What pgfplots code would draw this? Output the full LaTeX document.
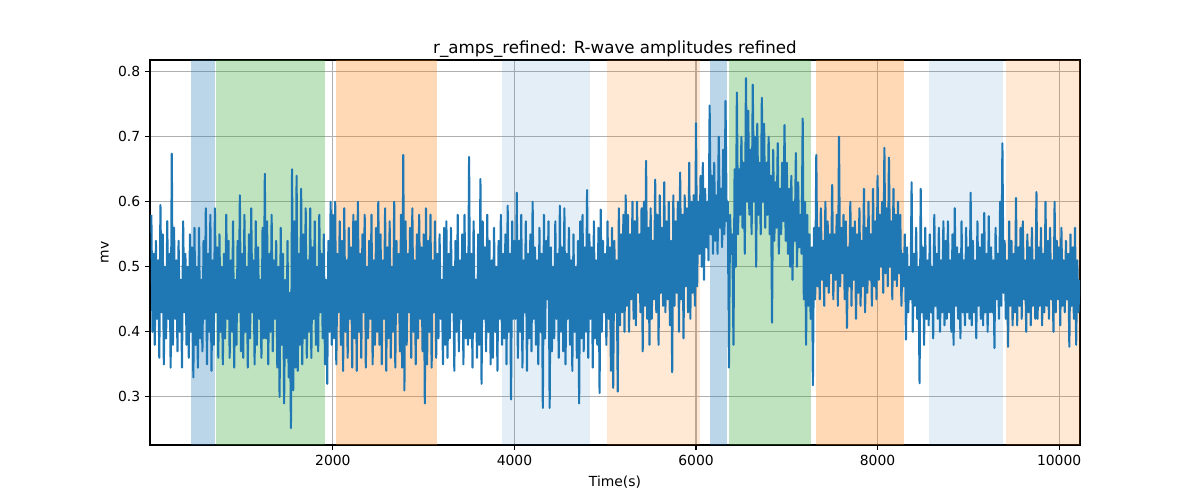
\documentclass[border=0pt]{standalone}
\usepackage{fontspec}
\setmainfont{DejaVu Sans}
\usepackage{pgfplots}
\pgfplotsset{compat=1.18}
\definecolor{tabblue}{RGB}{31,119,180}
\definecolor{tabgreen}{RGB}{44,160,44}
\definecolor{taborange}{RGB}{255,127,14}
\definecolor{gridgray}{RGB}{176,176,176}
\begin{document}
\begin{tikzpicture}
\path[use as bounding box] (-108pt,-39.6pt) rectangle (756pt,320.4pt);
\begin{axis}[
  scale only axis,
  width=669.6pt, height=277.2pt,
  at={(0,0)}, anchor=south west,
  xmin=-15, xmax=10230, ymin=0.226, ymax=0.818,
  xtick={2000,4000,6000,8000,10000},
  ytick={0.3,0.4,0.5,0.6,0.7,0.8},
  scaled x ticks=false, scaled y ticks=false,
  /pgf/number format/assume math mode=true,
  /pgf/number format/set thousands separator={},
  yticklabel style={/pgf/number format/fixed,/pgf/number format/precision=1,/pgf/number format/fixed zerofill},
  tick label style={font=\fontsize{10}{12}\selectfont},
  tick align=outside, major tick length=3.5pt,
  tick style={black, line width=0.8pt},
  xtick pos=bottom, ytick pos=left,
  axis line style={black, line width=0.8pt},
  grid=major,
  major grid style={gridgray, line width=0.8pt},
  title={r\_amps\_refined: R-wave amplitudes refined},
  title style={font=\fontsize{12}{14}\selectfont, at={(0.5,1)}, anchor=base, yshift=-1.5pt},
  xlabel={Time(s)},
  ylabel={mv},
  label style={font=\fontsize{10}{12}\selectfont},
  xlabel style={yshift=-1pt},
]
\addplot[fill=tabblue, fill opacity=0.3, draw=none] coordinates {(435,0.226) (700,0.226) (700,0.818) (435,0.818)} -- cycle;
\addplot[fill=tabgreen, fill opacity=0.3, draw=none] coordinates {(711,0.226) (1912,0.226) (1912,0.818) (711,0.818)} -- cycle;
\addplot[fill=taborange, fill opacity=0.3, draw=none] coordinates {(2033,0.226) (3146,0.226) (3146,0.818) (2033,0.818)} -- cycle;
\addplot[fill=tabblue, fill opacity=0.12, draw=none] coordinates {(3862,0.226) (4832,0.226) (4832,0.818) (3862,0.818)} -- cycle;
\addplot[fill=taborange, fill opacity=0.18, draw=none] coordinates {(5019,0.226) (6044,0.226) (6044,0.818) (5019,0.818)} -- cycle;
\addplot[fill=tabblue, fill opacity=0.3, draw=none] coordinates {(6154,0.226) (6342,0.226) (6342,0.818) (6154,0.818)} -- cycle;
\addplot[fill=tabgreen, fill opacity=0.3, draw=none] coordinates {(6364,0.226) (7267,0.226) (7267,0.818) (6364,0.818)} -- cycle;
\addplot[fill=taborange, fill opacity=0.3, draw=none] coordinates {(7322,0.226) (8292,0.226) (8292,0.818) (7322,0.818)} -- cycle;
\addplot[fill=tabblue, fill opacity=0.12, draw=none] coordinates {(8567,0.226) (9383,0.226) (9383,0.818) (8567,0.818)} -- cycle;
\addplot[fill=taborange, fill opacity=0.18, draw=none] coordinates {(9416,0.226) (10230,0.226) (10230,0.818) (9416,0.818)} -- cycle;
\addplot[tabblue, line width=1.5pt, line join=round, mark=none] coordinates {
(0,0.58)(12.5,0.40)(25,0.52)(37.5,0.38)(50,0.54)(62.5,0.42)(75,0.51)(87.5,0.36)(100,0.595)(112.5,0.43)(125,0.55)(137.5,0.35)(150,0.50)(162.5,0.39)(175,0.57)(187.5,0.42)(200,0.52)(212.5,0.345)(225,0.674)(237.5,0.38)
(250,0.56)(262.5,0.42)(275,0.51)(287.5,0.37)(300,0.54)(312.5,0.40)(325,0.48)(337.5,0.345)(350,0.57)(362.5,0.43)(375,0.52)(387.5,0.38)(400,0.50)(412.5,0.36)(425,0.55)(437.5,0.40)(450,0.53)(462.5,0.33)(475,0.56)(487.5,0.38)
(500,0.50)(512.5,0.345)(525,0.56)(537.5,0.39)(550,0.48)(562.5,0.37)(575,0.54)(587.5,0.42)(600,0.59)(612.5,0.35)(625,0.52)(637.5,0.40)(650,0.58)(662.5,0.34)(675,0.51)(687.5,0.38)(700,0.59)(712.5,0.43)(725,0.53)(737.5,0.36)
(750,0.55)(762.5,0.40)(775,0.50)(787.5,0.35)(800,0.52)(812.5,0.39)(825,0.58)(837.5,0.42)(850,0.54)(862.5,0.36)(875,0.51)(887.5,0.40)(900,0.57)(912.5,0.345)(925,0.48)(937.5,0.38)(950,0.54)(962.5,0.43)(975,0.61)(987.5,0.37)
(1000,0.52)(1012.5,0.36)(1025,0.58)(1037.5,0.40)(1050,0.50)(1062.5,0.345)(1075,0.55)(1087.5,0.39)(1100,0.59)(1112.5,0.43)(1125,0.51)(1137.5,0.35)(1150,0.57)(1162.5,0.38)(1175,0.53)(1187.5,0.42)(1200,0.48)(1212.5,0.36)(1225,0.56)(1237.5,0.39)
(1250,0.643)(1262.5,0.39)(1275,0.57)(1287.5,0.35)(1300,0.52)(1312.5,0.40)(1325,0.58)(1337.5,0.37)(1350,0.51)(1362.5,0.42)(1375,0.54)(1387.5,0.345)(1400,0.50)(1412.5,0.30)(1425,0.56)(1437.5,0.38)(1450,0.52)(1462.5,0.29)(1475,0.48)(1487.5,0.36)
(1500,0.54)(1512.5,0.33)(1525,0.46)(1537.5,0.252)(1550,0.65)(1562.5,0.31)(1575,0.57)(1587.5,0.345)(1600,0.64)(1612.5,0.34)(1625,0.52)(1637.5,0.38)(1650,0.62)(1662.5,0.35)(1675,0.55)(1687.5,0.39)(1700,0.59)(1712.5,0.36)(1725,0.51)(1737.5,0.40)
(1750,0.59)(1762.5,0.36)(1775,0.53)(1787.5,0.42)(1800,0.57)(1812.5,0.38)(1825,0.50)(1837.5,0.37)(1850,0.58)(1862.5,0.43)(1875,0.52)(1887.5,0.39)(1900,0.55)(1912.5,0.35)(1925,0.48)(1937.5,0.32)(1950,0.54)(1962.5,0.40)(1975,0.60)(1987.5,0.38)
(2000,0.58)(2012.5,0.39)(2025,0.60)(2037.5,0.35)(2050,0.52)(2062.5,0.43)(2075,0.57)(2087.5,0.38)(2100,0.54)(2112.5,0.34)(2125,0.59)(2137.5,0.40)(2150,0.51)(2162.5,0.36)(2175,0.56)(2187.5,0.42)(2200,0.53)(2212.5,0.345)(2225,0.58)(2237.5,0.39)
(2250,0.57)(2262.5,0.34)(2275,0.60)(2287.5,0.40)(2300,0.52)(2312.5,0.36)(2325,0.55)(2337.5,0.43)(2350,0.58)(2362.5,0.345)(2375,0.50)(2387.5,0.39)(2400,0.54)(2412.5,0.42)(2425,0.58)(2437.5,0.35)(2450,0.51)(2462.5,0.38)(2475,0.56)(2487.5,0.40)
(2500,0.60)(2512.5,0.38)(2525,0.55)(2537.5,0.35)(2550,0.51)(2562.5,0.42)(2575,0.59)(2587.5,0.34)(2600,0.53)(2612.5,0.39)(2625,0.57)(2637.5,0.36)(2650,0.50)(2662.5,0.40)(2675,0.60)(2687.5,0.345)(2700,0.54)(2712.5,0.43)(2725,0.52)(2737.5,0.37)
(2750,0.58)(2762.5,0.345)(2775,0.672)(2787.5,0.31)(2800,0.57)(2812.5,0.38)(2825,0.52)(2837.5,0.43)(2850,0.56)(2862.5,0.36)(2875,0.59)(2887.5,0.40)(2900,0.51)(2912.5,0.35)(2925,0.55)(2937.5,0.39)(2950,0.58)(2962.5,0.42)(2975,0.53)(2987.5,0.37)
(3000,0.55)(3012.5,0.29)(3025,0.59)(3037.5,0.35)(3050,0.54)(3062.5,0.40)(3075,0.58)(3087.5,0.345)(3100,0.51)(3112.5,0.43)(3125,0.57)(3137.5,0.36)(3150,0.52)(3162.5,0.39)(3175,0.55)(3187.5,0.42)(3200,0.48)(3212.5,0.35)(3225,0.56)(3237.5,0.38)
(3250,0.57)(3262.5,0.36)(3275,0.52)(3287.5,0.39)(3300,0.56)(3312.5,0.43)(3325,0.50)(3337.5,0.34)(3350,0.54)(3362.5,0.40)(3375,0.58)(3387.5,0.37)(3400,0.51)(3412.5,0.42)(3425,0.55)(3437.5,0.35)(3450,0.58)(3462.5,0.39)(3475,0.52)(3487.5,0.38)
(3500,0.669)(3512.5,0.39)(3525,0.52)(3537.5,0.345)(3550,0.57)(3562.5,0.40)(3575,0.48)(3587.5,0.36)(3600,0.55)(3612.5,0.38)(3625,0.635)(3637.5,0.32)(3650,0.57)(3662.5,0.42)(3675,0.53)(3687.5,0.37)(3700,0.58)(3712.5,0.40)(3725,0.54)(3737.5,0.35)
(3750,0.51)(3762.5,0.36)(3775,0.56)(3787.5,0.40)(3800,0.50)(3812.5,0.34)(3825,0.54)(3837.5,0.42)(3850,0.58)(3862.5,0.38)(3875,0.52)(3887.5,0.39)(3900,0.55)(3912.5,0.35)(3925,0.594)(3937.5,0.40)(3950,0.52)(3962.5,0.296)(3975,0.57)(3987.5,0.42)
(4000,0.54)(4012.5,0.42)(4025,0.614)(4037.5,0.36)(4050,0.54)(4062.5,0.40)(4075,0.58)(4087.5,0.345)(4100,0.51)(4112.5,0.43)(4125,0.57)(4137.5,0.34)(4150,0.52)(4162.5,0.39)(4175,0.55)(4187.5,0.37)(4200,0.60)(4212.5,0.42)(4225,0.53)(4237.5,0.38)
(4250,0.51)(4262.5,0.35)(4275,0.56)(4287.5,0.40)(4300,0.52)(4312.5,0.283)(4325,0.58)(4337.5,0.39)(4350,0.54)(4362.5,0.45)(4375,0.57)(4387.5,0.283)(4400,0.53)(4412.5,0.37)(4425,0.50)(4437.5,0.39)(4450,0.57)(4462.5,0.42)(4475,0.52)(4487.5,0.36)
(4500,0.594)(4512.5,0.40)(4525,0.53)(4537.5,0.37)(4550,0.59)(4562.5,0.35)(4575,0.52)(4587.5,0.42)(4600,0.56)(4612.5,0.38)(4625,0.51)(4637.5,0.34)(4650,0.55)(4662.5,0.40)(4675,0.50)(4687.5,0.36)(4700,0.54)(4712.5,0.29)(4725,0.57)(4737.5,0.39)
(4750,0.58)(4762.5,0.37)(4775,0.53)(4787.5,0.40)(4800,0.618)(4812.5,0.36)(4825,0.55)(4837.5,0.42)(4850,0.53)(4862.5,0.345)(4875,0.57)(4887.5,0.39)(4900,0.51)(4912.5,0.38)(4925,0.56)(4937.5,0.306)(4950,0.588)(4962.5,0.40)(4975,0.54)(4987.5,0.43)
(5000,0.52)(5012.5,0.38)(5025,0.57)(5037.5,0.42)(5050,0.53)(5062.5,0.34)(5075,0.56)(5087.5,0.314)(5100,0.54)(5112.5,0.43)(5125,0.51)(5137.5,0.308)(5150,0.59)(5162.5,0.41)(5175,0.55)(5187.5,0.43)(5200,0.58)(5212.5,0.40)(5225,0.61)(5237.5,0.44)
(5250,0.58)(5262.5,0.40)(5275,0.55)(5287.5,0.45)(5300,0.60)(5312.5,0.42)(5325,0.57)(5337.5,0.41)(5350,0.60)(5362.5,0.46)(5375,0.55)(5387.5,0.43)(5400,0.59)(5412.5,0.37)(5425,0.60)(5437.5,0.44)(5450,0.663)(5462.5,0.42)(5475,0.56)(5487.5,0.38)
(5500,0.59)(5512.5,0.42)(5525,0.54)(5537.5,0.45)(5550,0.634)(5562.5,0.43)(5575,0.58)(5587.5,0.38)(5600,0.61)(5612.5,0.46)(5625,0.56)(5637.5,0.44)(5650,0.63)(5662.5,0.43)(5675,0.57)(5687.5,0.45)(5700,0.60)(5712.5,0.41)(5725,0.54)(5737.5,0.338)
(5750,0.61)(5762.5,0.44)(5775,0.57)(5787.5,0.46)(5800,0.60)(5812.5,0.40)(5825,0.645)(5837.5,0.45)(5850,0.58)(5862.5,0.39)(5875,0.61)(5887.5,0.47)(5900,0.59)(5912.5,0.43)(5925,0.66)(5937.5,0.42)(5950,0.60)(5962.5,0.46)(5975,0.61)(5987.5,0.44)
(6000,0.721)(6012.5,0.47)(6025,0.60)(6037.5,0.52)(6050,0.64)(6062.5,0.50)(6075,0.66)(6087.5,0.48)(6100,0.62)(6112.5,0.53)(6125,0.60)(6137.5,0.51)(6150,0.748)(6162.5,0.55)(6175,0.64)(6187.5,0.52)(6200,0.66)(6212.5,0.54)(6225,0.61)(6237.5,0.52)
(6250,0.70)(6262.5,0.56)(6275,0.62)(6287.5,0.53)(6300,0.68)(6312.5,0.55)(6325,0.755)(6337.5,0.57)(6350,0.60)(6362.5,0.345)(6375,0.58)(6387.5,0.52)(6400,0.55)(6412.5,0.38)(6425,0.65)(6437.5,0.50)(6450,0.768)(6462.5,0.55)(6475,0.65)(6487.5,0.58)
(6500,0.70)(6512.5,0.56)(6525,0.66)(6537.5,0.52)(6550,0.79)(6562.5,0.60)(6575,0.74)(6587.5,0.58)(6600,0.68)(6612.5,0.55)(6625,0.78)(6637.5,0.60)(6650,0.70)(6662.5,0.50)(6675,0.72)(6687.5,0.58)(6700,0.66)(6712.5,0.55)(6725,0.76)(6737.5,0.60)
(6750,0.72)(6762.5,0.56)(6775,0.66)(6787.5,0.58)(6800,0.70)(6812.5,0.55)(6825,0.64)(6837.5,0.414)(6850,0.68)(6862.5,0.54)(6875,0.63)(6887.5,0.56)(6900,0.69)(6912.5,0.52)(6925,0.62)(6937.5,0.55)(6950,0.66)(6962.5,0.57)(6975,0.718)(6987.5,0.54)
(7000,0.66)(7012.5,0.52)(7025,0.62)(7037.5,0.50)(7050,0.64)(7062.5,0.48)(7075,0.60)(7087.5,0.54)(7100,0.675)(7112.5,0.50)(7125,0.63)(7137.5,0.53)(7150,0.58)(7162.5,0.52)(7175,0.728)(7187.5,0.45)(7200,0.60)(7212.5,0.38)(7225,0.58)(7237.5,0.44)
(7250,0.55)(7262.5,0.42)(7275,0.53)(7287.5,0.318)(7300,0.56)(7312.5,0.45)(7325,0.672)(7337.5,0.47)(7350,0.56)(7362.5,0.45)(7375,0.59)(7387.5,0.48)(7400,0.54)(7412.5,0.44)(7425,0.60)(7437.5,0.47)(7450,0.57)(7462.5,0.46)(7475,0.55)(7487.5,0.49)
(7500,0.626)(7512.5,0.45)(7525,0.55)(7537.5,0.48)(7550,0.58)(7562.5,0.44)(7575,0.70)(7587.5,0.47)(7600,0.56)(7612.5,0.49)(7625,0.58)(7637.5,0.45)(7650,0.57)(7662.5,0.406)(7675,0.53)(7687.5,0.47)(7700,0.60)(7712.5,0.44)(7725,0.56)(7737.5,0.48)
(7750,0.57)(7762.5,0.42)(7775,0.55)(7787.5,0.46)(7800,0.59)(7812.5,0.44)(7825,0.54)(7837.5,0.47)(7850,0.62)(7862.5,0.43)(7875,0.56)(7887.5,0.46)(7900,0.60)(7912.5,0.48)(7925,0.55)(7937.5,0.44)(7950,0.62)(7962.5,0.47)(7975,0.57)(7987.5,0.45)
(8000,0.64)(8012.5,0.48)(8025,0.58)(8037.5,0.50)(8050,0.60)(8062.5,0.46)(8075,0.683)(8087.5,0.49)(8100,0.59)(8112.5,0.47)(8125,0.668)(8137.5,0.50)(8150,0.57)(8162.5,0.45)(8175,0.62)(8187.5,0.48)(8200,0.58)(8212.5,0.47)(8225,0.60)(8237.5,0.49)
(8250,0.58)(8262.5,0.44)(8275,0.52)(8287.5,0.47)(8300,0.55)(8312.5,0.388)(8325,0.53)(8337.5,0.43)(8350,0.50)(8362.5,0.45)(8375,0.63)(8387.5,0.40)(8400,0.52)(8412.5,0.44)(8425,0.56)(8437.5,0.42)(8450,0.50)(8462.5,0.321)(8475,0.62)(8487.5,0.43)
(8500,0.53)(8512.5,0.38)(8525,0.56)(8537.5,0.42)(8550,0.51)(8562.5,0.41)(8575,0.55)(8587.5,0.43)(8600,0.50)(8612.5,0.39)(8625,0.58)(8637.5,0.44)(8650,0.52)(8662.5,0.42)(8675,0.56)(8687.5,0.40)(8700,0.51)(8712.5,0.43)(8725,0.57)(8737.5,0.41)
(8750,0.54)(8762.5,0.42)(8775,0.57)(8787.5,0.43)(8800,0.51)(8812.5,0.40)(8825,0.55)(8837.5,0.38)(8850,0.59)(8862.5,0.44)(8875,0.53)(8887.5,0.42)(8900,0.52)(8912.5,0.39)(8925,0.57)(8937.5,0.43)(8950,0.51)(8962.5,0.41)(8975,0.56)(8987.5,0.43)
(9000,0.53)(9012.5,0.42)(9025,0.614)(9037.5,0.41)(9050,0.54)(9062.5,0.43)(9075,0.51)(9087.5,0.39)(9100,0.57)(9112.5,0.44)(9125,0.53)(9137.5,0.42)(9150,0.55)(9162.5,0.41)(9175,0.583)(9187.5,0.43)(9200,0.52)(9212.5,0.40)(9225,0.578)(9237.5,0.43)
(9250,0.53)(9262.5,0.43)(9275,0.51)(9287.5,0.375)(9300,0.56)(9312.5,0.45)(9325,0.52)(9337.5,0.42)(9350,0.60)(9362.5,0.44)(9375,0.69)(9387.5,0.46)(9400,0.54)(9412.5,0.42)(9425,0.51)(9437.5,0.377)(9450,0.57)(9462.5,0.44)(9475,0.54)(9487.5,0.41)
(9500,0.52)(9512.5,0.43)(9525,0.606)(9537.5,0.41)(9550,0.53)(9562.5,0.44)(9575,0.56)(9587.5,0.42)(9600,0.57)(9612.5,0.45)(9625,0.51)(9637.5,0.40)(9650,0.55)(9662.5,0.43)(9675,0.53)(9687.5,0.41)(9700,0.56)(9712.5,0.44)(9725,0.51)(9737.5,0.42)
(9750,0.615)(9762.5,0.42)(9775,0.53)(9787.5,0.44)(9800,0.56)(9812.5,0.41)(9825,0.52)(9837.5,0.43)(9850,0.60)(9862.5,0.44)(9875,0.54)(9887.5,0.42)(9900,0.56)(9912.5,0.45)(9925,0.51)(9937.5,0.40)(9950,0.60)(9962.5,0.43)(9975,0.54)(9987.5,0.45)
(10000,0.53)(10012.5,0.41)(10025,0.56)(10037.5,0.44)(10050,0.51)(10062.5,0.43)(10075,0.54)(10087.5,0.45)(10100,0.52)(10112.5,0.377)(10125,0.55)(10137.5,0.44)(10150,0.53)(10162.5,0.42)(10175,0.56)(10187.5,0.38)(10200,0.51)(10212.5,0.43)(10225,0.48)
};
\end{axis}
\end{tikzpicture}
\end{document}
